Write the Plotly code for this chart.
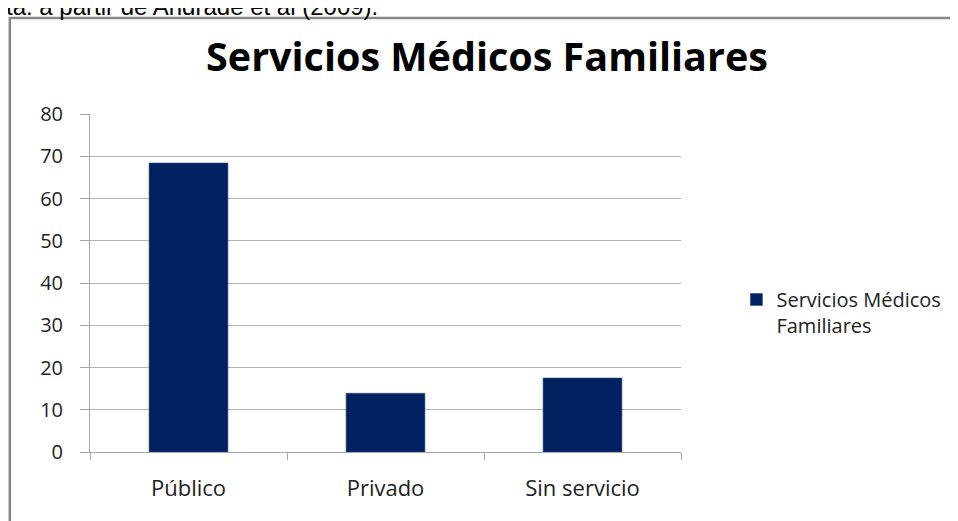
import plotly.graph_objects as go

categories = ["Público", "Privado", "Sin servicio"]
values = [68.4, 13.9, 17.5]
series_name = "Servicios Médicos<br>Familiares"
title_text = "Servicios Médicos Familiares"
top_note = "ta: a partir de Andrade et al (2009)."
y_ticks = [0, 10, 20, 30, 40, 50, 60, 70, 80]

OFF = 8  # page body margin
W, H = 958 - OFF, 521 - OFF
L, R, T, B = 90 - OFF, 687 - OFF, 114 - OFF, 452 - OFF


def px(x):
    """page x -> paper x"""
    return (x - OFF - L) / (R - L)


def py(y):
    """page y -> paper y"""
    return (B - (y - OFF)) / (B - T)


fig = go.Figure()
fig.add_trace(go.Bar(
    x=categories, y=values, name=series_name,
    marker=dict(color="#002060", line=dict(color="#2a4a85", width=0.6)),
    showlegend=True,
))

font = "'Open Sans', Lato, sans-serif"
fig.update_layout(
    width=W, height=H,
    margin=dict(l=L, r=W - R, t=T, b=H - B, pad=0),
    paper_bgcolor="white", plot_bgcolor="white",
    bargap=0.6,
    font=dict(family=font, size=20, color="#222222"),
    title=dict(text="<b>" + title_text + "</b>", x=px(491), xanchor="center",
               xref="paper", y=1 - (57 - OFF) / H, yanchor="middle",
               font=dict(family=font, size=39.5, color="#000000")),
    showlegend=True,
    legend=dict(x=px(743), y=py(280), xanchor="left", yanchor="top",
                font=dict(family=font, size=20, color="#222222"),
                valign="top", itemwidth=30, tracegroupgap=0,
                bgcolor="rgba(0,0,0,0)"),
    xaxis=dict(type="category", showline=True, linecolor="#a6a6a6", linewidth=1,
               ticks="outside", ticklen=7, tickcolor="#a6a6a6", tickson="boundaries",
               showgrid=False, tickfont=dict(family=font, size=22, color="#222222"),
               ticklabelstandoff=17, range=[-0.5, 2.5]),
    yaxis=dict(range=[0, 80], tickvals=y_ticks, showline=True, linecolor="#a6a6a6",
               linewidth=1, ticks="outside", ticklen=9, tickcolor="#a6a6a6",
               showgrid=True, gridcolor="#b3b3b3", gridwidth=1, zeroline=False,
               tickfont=dict(family=font, size=20, color="#222222"), ticklabelstandoff=13),
)

fig.add_shape(type="rect", xref="paper", yref="paper",
              x0=px(9), x1=px(1000), y0=py(600), y1=py(18),
              line=dict(color="#878787", width=2.5), fillcolor="rgba(0,0,0,0)", layer="above")

fig.add_annotation(text=top_note, xref="paper", yref="paper", x=px(3), y=py(22),
                   xanchor="left", yanchor="bottom", showarrow=False,
                   font=dict(family="Liberation Sans, Arial, sans-serif", size=24, color="#000000"))

fig.write_html("out.html")
